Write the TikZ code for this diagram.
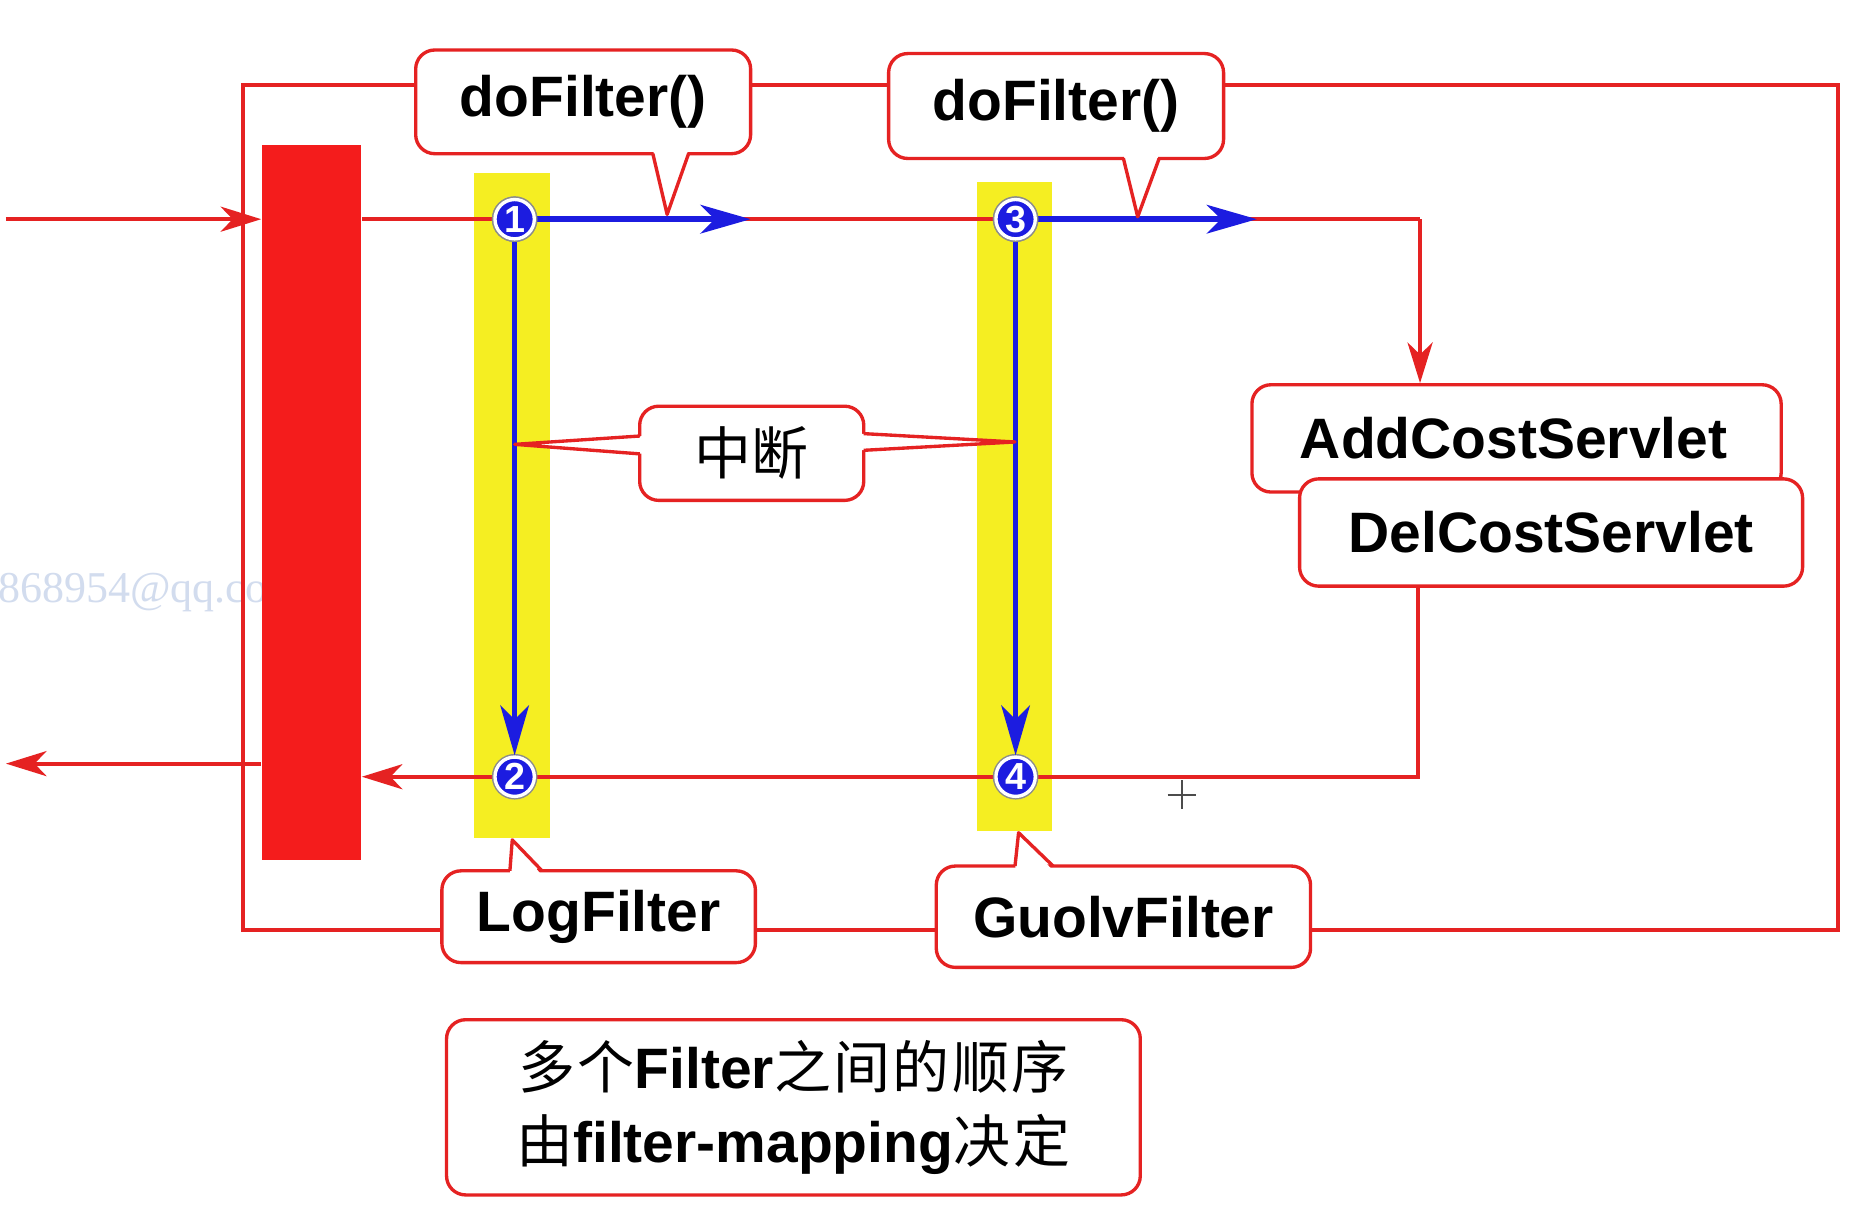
\documentclass[tikz,border=0pt]{standalone}
\usepackage{fontspec}
\setmainfont{Liberation Sans}
\newfontfamily\cjk{Noto Sans CJK SC}
\newfontfamily\wmfont{Liberation Serif}
\usetikzlibrary{arrows.meta,calc}
\definecolor{rl}{HTML}{E52222}
\definecolor{barred}{HTML}{F41C1C}
\definecolor{ybar}{HTML}{F5EE22}
\definecolor{cblue}{HTML}{1C1CE0}
\definecolor{wm}{HTML}{D2DCEE}
\tikzset{
  redline/.style={draw=rl, line width=0.95pt},
  redarr/.style={redline, -{Stealth[length=0.34cm,width=0.21cm,inset=0.1cm]}},
  bluearr/.style={draw=cblue, line width=1.3pt, -{Stealth[length=0.42cm,width=0.24cm,inset=0.12cm]}},
  callout/.style={draw=rl, fill=white, line width=0.8pt, rounded corners=0.16cm, inner sep=0pt, align=center},
  bigtxt/.style={font=\fontsize{13.6pt}{16pt}\selectfont\bfseries},
  tailfill/.style={fill=white},
  taildraw/.style={draw=rl, line width=0.8pt, line join=round},
  numdot/.style={circle, fill=cblue, draw=white, line width=0.8pt, minimum size=0.33cm, inner sep=0pt,
    text=white, font=\fontsize{9pt}{9pt}\selectfont\bfseries,
    preaction={draw=black!45, line width=1.5pt}},
}
\begin{document}
\begin{tikzpicture}[x=0.01cm, y=-0.01cm]
\useasboundingbox (0,0) rectangle (1568,1019);
\fill[white] (0,0) rectangle (1568,1019);

% watermark
\node[anchor=west, inner sep=0pt, text=wm, font=\wmfont\fontsize{10.5pt}{12pt}\selectfont] (wmk) at (-2,497) {868954@qq.com};

% outer frame
\draw[redline] (204,71) rectangle (1543,781);

% red bar and yellow filter bars
\node[fill=barred, minimum width=0.83cm, minimum height=6cm, inner sep=0pt] (bar) at (261.5,422) {};
\node[fill=ybar, minimum width=0.64cm, minimum height=5.58cm, inner sep=0pt] (lfb) at (430,424) {};
\node[fill=ybar, minimum width=0.63cm, minimum height=5.44cm, inner sep=0pt] (gfb) at (851.5,425) {};

% coordinates
\coordinate (in) at (5,184);
\coordinate (out) at (5,641);
\coordinate (tr) at (1192,184);
\coordinate (br) at (1190,652);
\coordinate (b1) at (630,184);
\coordinate (b3) at (1055,184);

% servlet boxes
\node[callout, bigtxt, minimum width=4.44cm, minimum height=0.9cm] (add) at (1273,368) {AddCostServlet\hspace*{0.05cm}};
\node[callout, bigtxt, minimum width=4.22cm, minimum height=0.9cm] (del) at (1302,447) {DelCostServlet};

% red flows
\draw[redarr] (in) -- (bar.west |- in);
\draw[redline] (bar.east |- in) -- (tr);
\draw[redarr] (tr) -- (tr |- add.north);
\draw[redarr] (br |- del.south) -- (br) -- (bar.east |- br);
\draw[redarr] (bar.west |- out) -- (out);

% numbered points
\node[numdot] (c1) at (432,184) {1};
\node[numdot] (c2) at (432,652) {2};
\node[numdot] (c3) at (852.5,184) {3};
\node[numdot] (c4) at (852.5,652) {4};

% blue flows
\draw[bluearr] (c1) -- (b1);
\draw[bluearr] (c3) -- (b3);
\draw[bluearr] (c1.south) -- (c2.north);
\draw[bluearr] (c3.south) -- (c4.north);
\fill[white] (c1) circle (0.16cm); \node[numdot] at (c1) {1};
\fill[white] (c3) circle (0.16cm); \node[numdot] at (c3) {3};

% callouts
\node[callout, bigtxt, minimum width=2.81cm, minimum height=0.87cm] (df1) at (489.5,85.5) {doFilter()};
\fill[tailfill] (548,125) -- (560,180) -- (578,125) -- cycle;
\draw[taildraw] (548,129) -- (560,180) -- (578,129);

\node[callout, bigtxt, minimum width=2.81cm, minimum height=0.88cm] (df2) at (886.5,89) {doFilter()};
\fill[tailfill] (943,129) -- (955,182) -- (973,129) -- cycle;
\draw[taildraw] (943,133) -- (955,182) -- (973,133);

\node[callout, minimum width=1.88cm, minimum height=0.79cm, font=\cjk\fontsize{13.6pt}{16pt}\selectfont] (zd) at (631,380.5) {中断};
\fill[tailfill] (541,366) -- (432,373) -- (541,381) -- cycle;
\draw[taildraw] (537,366) -- (432,373) -- (537,381);
\fill[tailfill] (721,364) -- (852,371) -- (721,378) -- cycle;
\draw[taildraw] (725,364) -- (852,371) -- (725,378);

\node[callout, bigtxt, minimum width=2.63cm, minimum height=0.77cm] (lf) at (502.5,769.5) {LogFilter};
\fill[tailfill] (428,735) -- (430,705) -- (455,735) -- cycle;
\draw[taildraw] (428,731) -- (430,705) -- (455,731);

\node[callout, bigtxt, minimum width=3.14cm, minimum height=0.85cm] (gf) at (943,769.5) {GuolvFilter};
\fill[tailfill] (852,731) -- (855,699) -- (884,731) -- cycle;
\draw[taildraw] (852,727) -- (855,699) -- (884,727);

% note box
\node[callout, minimum width=5.82cm, minimum height=1.47cm, font=\fontsize{13.6pt}{0.62cm}\selectfont] (note) at (666,929.5)
  {{\cjk 多\kern0.02cm 个}{\bfseries Filter}{\cjk 之\kern0.02cm 间\kern0.02cm 的\kern0.02cm 顺\kern0.02cm 序}\\{\cjk 由}{\bfseries filter-mapping}{\cjk 决\kern0.03cm 定}};

% cursor mark
\draw[black!70, line width=0.5pt] (980,667) -- (1004,667) (992,655) -- (992,679);
\end{tikzpicture}
\end{document}
